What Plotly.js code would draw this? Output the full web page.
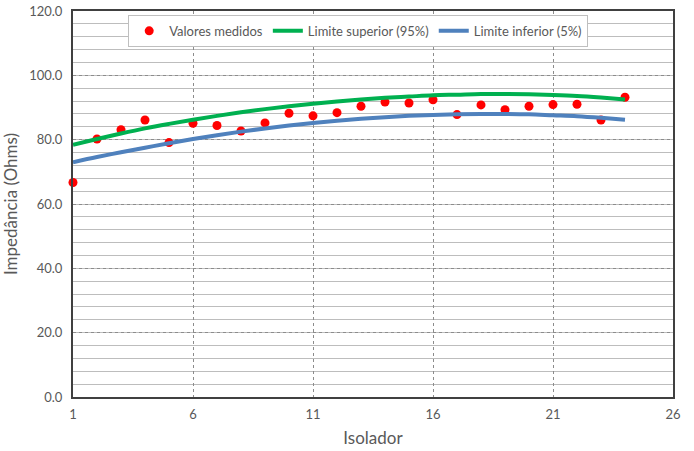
<!DOCTYPE html>
<html>
<head>
<meta charset="utf-8">
<script src="https://cdn.plot.ly/plotly-3.0.1.min.js"></script>
<style>html,body{margin:0;padding:0;background:#fff;}#chart{width:694px;height:451px;}</style>
</head>
<body>
<div id="chart"></div>
<script>
const isolador = [1,2,3,4,5,6,7,8,9,10,11,12,13,14,15,16,17,18,19,20,21,22,23,24];
const valoresMedidos = [66.7,80.2,83.1,86.1,79.1,85.1,84.4,82.7,85.2,88.2,87.4,88.4,90.4,91.7,91.4,92.4,87.8,90.8,89.3,90.4,90.9,91.0,86.1,93.2];
const limiteSuperior = [78.4,80.2,81.9,83.5,84.9,86.2,87.4,88.5,89.5,90.4,91.2,91.9,92.5,93.0,93.4,93.8,94.0,94.2,94.2,94.1,93.9,93.6,93.1,92.5];
const limiteInferior = [73.0,74.6,76.1,77.5,78.9,80.2,81.4,82.5,83.5,84.4,85.2,85.9,86.5,87.0,87.4,87.7,87.9,88.0,88.0,87.9,87.6,87.3,86.8,86.2];
const seriesNames = ["Valores medidos","Limite superior (95%)","Limite inferior (5%)"];
const xTicks = [1,6,11,16,21,26];
const yTicks = [0,20,40,60,80,100,120];

const font = "Lato, 'Open Sans', sans-serif";
const traces = [
  {x: isolador, y: valoresMedidos, name: seriesNames[0], type: 'scatter', mode: 'markers',
   marker: {color: '#ff0000', size: 9}, cliponaxis: false},
  {x: isolador, y: limiteSuperior, name: seriesNames[1], type: 'scatter', mode: 'lines',
   line: {color: '#00b050', width: 4, shape: 'spline'}},
  {x: isolador, y: limiteInferior, name: seriesNames[2], type: 'scatter', mode: 'lines',
   line: {color: '#4f81bd', width: 4, shape: 'spline'}}
];
const layout = {
  width: 694, height: 451,
  margin: {l: 73, r: 21, t: 11, b: 54},
  paper_bgcolor: '#ffffff', plot_bgcolor: '#ffffff',
  font: {family: font, color: '#595959', size: 13},
  showlegend: true,
  legend: {orientation: 'h', x: 0.092, y: 0.99, xanchor: 'left', yanchor: 'top',
    bgcolor: '#ffffff', bordercolor: '#bfbfbf', borderwidth: 1,
    font: {family: font, size: 13, color: '#595959'}, itemwidth: 30, tracegroupgap: 0},
  xaxis: {range: [1, 26], tickvals: xTicks, ticktext: xTicks.map(String),
    showgrid: true, gridcolor: '#8c8c8c', griddash: 'dot', gridwidth: 1,
    zeroline: false, showline: true, mirror: true, linecolor: '#404040', linewidth: 2,
    ticks: '', ticklabelstandoff: 4,
    title: {text: 'Isolador', font: {family: font, size: 17, color: '#595959'}, standoff: 12}},
  yaxis: {range: [0, 120], tickvals: yTicks, ticktext: yTicks.map(v => v.toFixed(1)),
    showgrid: true, gridcolor: '#8c8c8c', griddash: 'dot', gridwidth: 1,
    minor: {dtick: 4, tick0: 0, showgrid: true, gridcolor: '#bdbdbd', gridwidth: 1, griddash: 'solid', ticks: ''},
    zeroline: false, showline: true, mirror: true, linecolor: '#404040', linewidth: 2,
    ticks: '', ticklabelstandoff: 6,
    title: {text: 'Impedância (Ohms)', font: {family: font, size: 17, color: '#595959'}, standoff: 10}}
};
Plotly.newPlot('chart', traces, layout, {displayModeBar: false, staticPlot: true});
</script>
</body>
</html>
